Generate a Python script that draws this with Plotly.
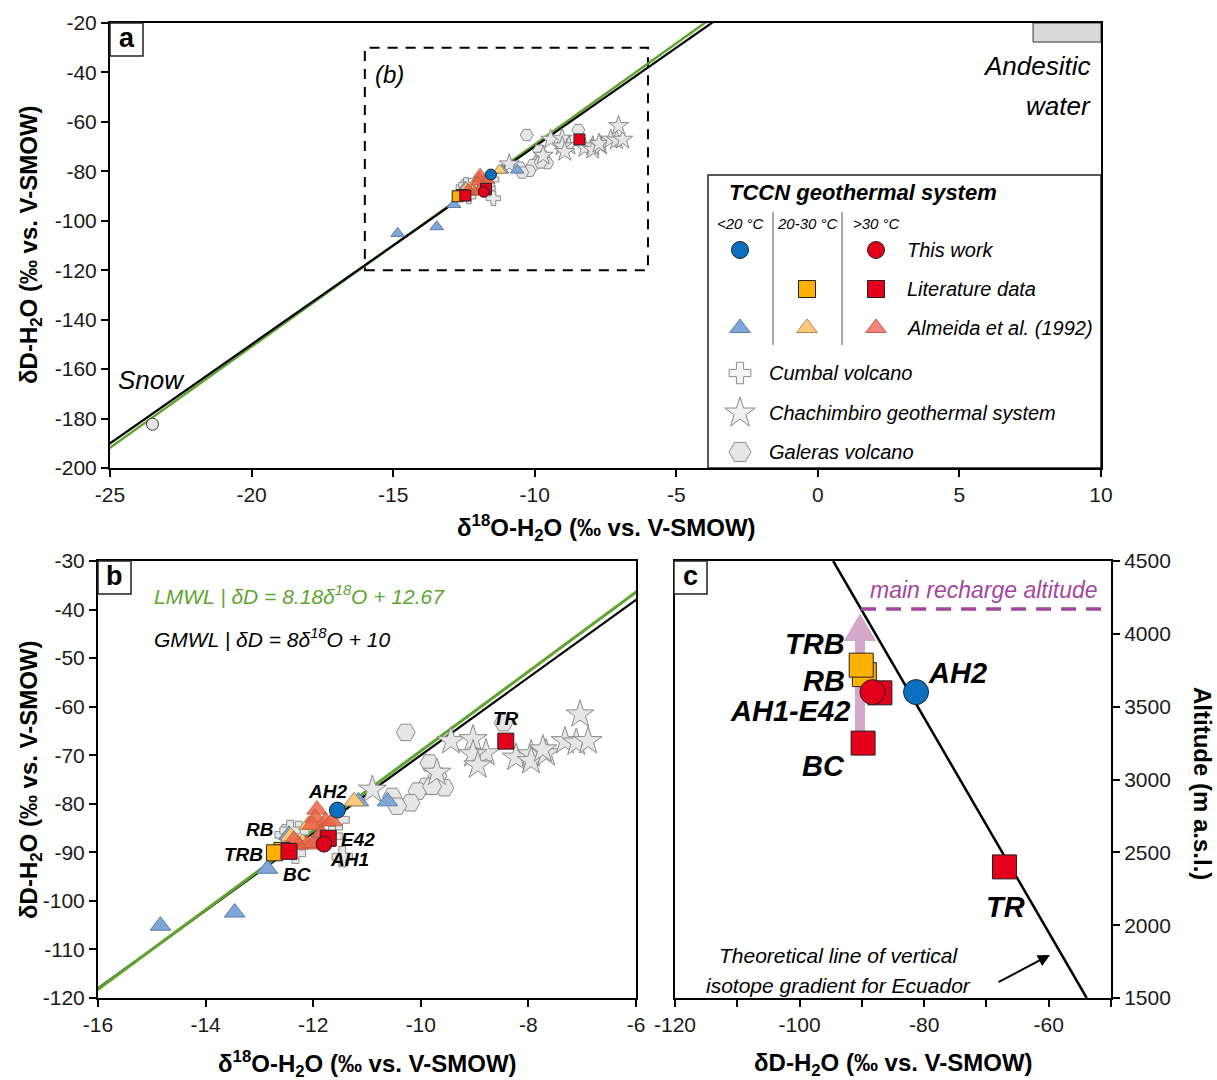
import plotly.graph_objects as go

W, H = 1217, 1080
FONT = "Liberation Sans, Arial, sans-serif"

# ---------------- data (δ18O, δD in ‰ vs V-SMOW; altitude m a.s.l.) ----------------
# TCCN geothermal system - this work
tw_lt20_name = ["AH2"]
tw_lt20_d18O = [-11.55]
tw_lt20_dD = [-81.3]
tw_lt20_alt = [3600]

tw_gt30_name = ["AH1"]
tw_gt30_d18O = [-11.80]
tw_gt30_dD = [-88.3]
tw_gt30_alt = [3600]

# literature data
lit_2030_name = ["RB", "TRB"]
lit_2030_d18O = [-12.58, -12.72]
lit_2030_dD = [-89.6, -90.1]
lit_2030_alt = [3720, 3785]

lit_gt30_name = ["BC", "E42", "TR"]
lit_gt30_d18O = [-12.45, -11.72, -8.42]
lit_gt30_dD = [-89.8, -87.1, -67.1]
lit_gt30_alt = [3250, 3595, 2400]

# Almeida et al. (1992)
alm_lt20_d18O = [-14.84, -13.46, -12.85, -11.16, -10.62, -12.45, -11.90]
alm_lt20_dD = [-105.1, -102.4, -93.4, -79.5, -79.5, -86.4, -87.0]
alm_2030_d18O = [-11.24, -12.08, -12.42, -12.20]
alm_2030_dD = [-79.5, -84.3, -86.7, -88.0]
alm_gt30_d18O = [-11.93, -11.96, -11.77, -11.65, -12.02, -12.27, -12.11, -11.99, -12.36, -11.85]
alm_gt30_dD = [-81.2, -82.9, -83.6, -83.6, -84.3, -88.4, -88.4, -88.1, -87.4, -86.0]

# Cumbal volcano
cum_d18O = [-12.52, -12.27, -11.46, -11.65, -11.52, -12.33, -12.43]
cum_dD = [-86.4, -85.7, -90.9, -86.7, -83.3, -90.2, -85.5]

# Chachimbiro geothermal system
cha_d18O = [-9.44, -9.03, -8.79, -9.03, -8.94, -8.23, -7.95, -7.95, -7.67, -7.73,
            -7.32, -7.11, -6.89, -7.04, -10.90, -9.70]
cha_dD = [-67.1, -66.7, -69.6, -69.8, -72.1, -70.5, -69.8, -71.2, -69.6, -68.8,
          -67.1, -67.4, -67.1, -61.6, -77.1, -73.6]

# Galeras volcano
gal_d18O = [-10.28, -8.46, -9.84, -9.69, -9.90, -9.56, -10.06, -10.19, -9.79, -10.53, -10.44]
gal_dD = [-65.3, -63.3, -71.6, -74.3, -76.4, -76.7, -77.4, -79.8, -76.4, -78.5, -80.5]

# Snow
snow_d18O = [-23.5]
snow_dD = [-182.3]

# meteoric water lines
gmwl_slope, gmwl_int = 8.0, 10.0
lmwl_slope, lmwl_int = 8.18, 12.67
mwl_x = [-26.0, 11.0]

# theoretical vertical isotope gradient for Ecuador (panel c)
grad_dD = [-94.6, -53.9]
grad_alt = [4500, 1500]
recharge_alt = 4170
arrow_dD, arrow_from, arrow_to = -90.3, 3250, 4140

# andesitic water field
and_x = [7.6, 10.0]
and_y = [-27.7, -20.0]

# axis ticks
a_xticks = [-25, -20, -15, -10, -5, 0, 5, 10]
a_yticks = list(range(-200, -19, 20))
b_xticks = [-16, -14, -12, -10, -8, -6]
b_yticks = list(range(-120, -29, 10))
c_xticks = [-120, -100, -80, -60]
c_yticks = [1500, 2000, 2500, 3000, 3500, 4000, 4500]


def lab(vals):
    return [str(v) for v in vals]


# ---------------- colours ----------------
C_BLUE = "#0b6fc0"
C_RED = "#e2001a"
C_ORANGE = "#ffb000"
C_TRI_BLUE = "#7ea6d8"
C_TRI_ORANGE = "#ffca7a"
C_TRI_RED = "#ee6446"
C_TRI_RED_LEG = "#f4847a"
C_GRAY = "#e6e6e6"
C_GRAY_LINE = "#8a8a8a"
C_GREEN = "#5ea52f"
C_PURPLE = "#a2479c"
C_PINK = "#d5a7ca"

# ---------------- layout geometry (pixels) ----------------
A = dict(x0=110, x1=1101, y0=23, y1=468)
B = dict(x0=98, x1=636, y0=561, y1=998)
C = dict(x0=675, x1=1111, y0=561, y1=998)


def X(px):
    return px / W


def Y(py):
    return 1 - py / H


fig = go.Figure()


def pts(x, y, xa, ya, symbol, size, color, lc="#222222", lw=1, opacity=1.0):
    fig.add_trace(go.Scatter(
        x=x, y=y, xaxis=xa, yaxis=ya, mode="markers",
        marker=dict(symbol=symbol, size=size, color=color, opacity=opacity,
                    line=dict(color=lc, width=lw)),
        showlegend=False, hoverinfo="skip"))


def line(x, y, xa, ya, color, width, dash="solid"):
    fig.add_trace(go.Scatter(
        x=x, y=y, xaxis=xa, yaxis=ya, mode="lines",
        line=dict(color=color, width=width, dash=dash),
        showlegend=False, hoverinfo="skip"))


gmwl_y = [gmwl_slope * v + gmwl_int for v in mwl_x]
lmwl_y = [lmwl_slope * v + lmwl_int for v in mwl_x]

# ---- panel a ----
line(mwl_x, lmwl_y, "x", "y", C_GREEN, 2.5)
line(mwl_x, gmwl_y, "x", "y", "black", 2.2)


def draw_iso(xa, ya, s):
    pts(gal_d18O, gal_dD, xa, ya, "hexagon2", s["hex"], C_GRAY, C_GRAY_LINE)
    pts(cha_d18O, cha_dD, xa, ya, "star", s["star"], C_GRAY, C_GRAY_LINE)
    pts(cum_d18O, cum_dD, xa, ya, "cross", s["cross"], C_GRAY, C_GRAY_LINE)
    pts(alm_lt20_d18O, alm_lt20_dD, xa, ya, "triangle-up", s["tri"], C_TRI_BLUE, "#5c7fa8")
    pts(alm_2030_d18O, alm_2030_dD, xa, ya, "triangle-up", s["tri"], C_TRI_ORANGE, "#b08a50")
    pts(alm_gt30_d18O, alm_gt30_dD, xa, ya, "triangle-up", s["tri"], C_TRI_RED, "#b85a40", opacity=0.85)
    pts(lit_2030_d18O, lit_2030_dD, xa, ya, "square", s["sq"], C_ORANGE)
    pts(lit_gt30_d18O, lit_gt30_dD, xa, ya, "square", s["sq"], C_RED)
    pts(tw_lt20_d18O, tw_lt20_dD, xa, ya, "circle", s["circ"], C_BLUE)
    pts(tw_gt30_d18O, tw_gt30_dD, xa, ya, "circle", s["circ"], C_RED)


draw_iso("x", "y", dict(hex=13, star=15, cross=12, tri=12, sq=11, circ=11))
pts(snow_d18O, snow_dD, "x", "y", "circle", 12, C_GRAY, "#333333")

# ---- panel b ----
line(mwl_x, gmwl_y, "x2", "y2", "black", 2.2)
line(mwl_x, lmwl_y, "x2", "y2", C_GREEN, 3)
draw_iso("x2", "y2", dict(hex=19, star=21, cross=17, tri=18, sq=16, circ=16))

# ---- panel c ----
line(grad_dD, grad_alt, "x3", "y3", "black", 2.5)
line([grad_dD[0] + (grad_dD[1] - grad_dD[0]) * (grad_alt[0] - recharge_alt) / (grad_alt[0] - grad_alt[1]), -50],
     [recharge_alt, recharge_alt], "x3", "y3", C_PURPLE, 3.5, "15px,10px")
line([arrow_dD, arrow_dD], [arrow_from, arrow_to - 190], "x3", "y3", C_PINK, 10)
pts(lit_gt30_dD, lit_gt30_alt, "x3", "y3", "square", 24, C_RED)
pts(lit_2030_dD, lit_2030_alt, "x3", "y3", "square", 24, C_ORANGE)
pts(tw_gt30_dD, tw_gt30_alt, "x3", "y3", "circle", 25, C_RED)
pts(tw_lt20_dD, tw_lt20_alt, "x3", "y3", "circle", 25, C_BLUE)

# ---- legend (pixel overlay axes) ----
LEG_COL = [740, 807, 876]
LEG_ROWS = [250, 289, 328, 373, 413, 452]
leg_items = [
    (LEG_COL[0], LEG_ROWS[0], "circle", 17, C_BLUE, "#222222"),
    (LEG_COL[2], LEG_ROWS[0], "circle", 17, C_RED, "#222222"),
    (LEG_COL[1], LEG_ROWS[1], "square", 17, C_ORANGE, "#222222"),
    (LEG_COL[2], LEG_ROWS[1], "square", 17, C_RED, "#222222"),
    (LEG_COL[0], LEG_ROWS[2], "triangle-up", 18, C_TRI_BLUE, "#5c7fa8"),
    (LEG_COL[1], LEG_ROWS[2], "triangle-up", 18, C_TRI_ORANGE, "#b08a50"),
    (LEG_COL[2], LEG_ROWS[2], "triangle-up", 18, C_TRI_RED_LEG, "#c06050"),
    (LEG_COL[0], LEG_ROWS[3], "cross", 18, "#f4f4f4", C_GRAY_LINE),
    (LEG_COL[0], LEG_ROWS[4], "star", 23, "#f0f0f0", C_GRAY_LINE),
    (LEG_COL[0], LEG_ROWS[5], "hexagon2", 22, C_GRAY, C_GRAY_LINE),
]
for lx, ly, sym, sz, col, lc in leg_items:
    pts([lx], [ly], "x4", "y4", sym, sz, col, lc)

# ---------------- axes ----------------
tickfont = dict(family=FONT, size=21, color="#1a1a1a")
common = dict(showline=True, linecolor="black", linewidth=2, mirror=True,
              ticks="outside", ticklen=7, tickwidth=2, tickcolor="black",
              showgrid=False, zeroline=False, tickfont=tickfont, fixedrange=True,
              automargin=False)

fig.update_layout(
    template="none",
    width=W, height=H, margin=dict(l=0, r=0, t=0, b=0, autoexpand=False),
    paper_bgcolor="white", plot_bgcolor="rgba(0,0,0,0)",
    xaxis=dict(domain=[X(A["x0"]), X(A["x1"])], range=[-25, 10], tickvals=a_xticks, ticktext=lab(a_xticks),
               anchor="y", **common),
    yaxis=dict(domain=[Y(A["y1"]), Y(A["y0"])], range=[-200, -20], tickvals=a_yticks, ticktext=lab(a_yticks),
               anchor="x", **common),
    xaxis2=dict(domain=[X(B["x0"]), X(B["x1"])], range=[-16, -6], tickvals=b_xticks, ticktext=lab(b_xticks),
                anchor="y2", **common),
    yaxis2=dict(domain=[Y(B["y1"]), Y(B["y0"])], range=[-120, -30], tickvals=b_yticks, ticktext=lab(b_yticks),
                anchor="x2", **common),
    xaxis3=dict(domain=[X(C["x0"]), X(C["x1"])], range=[-120, -50], tickvals=c_xticks, ticktext=lab(c_xticks),
                minor=dict(dtick=10, tick0=-120, ticks="outside", ticklen=7, tickwidth=2, tickcolor="black",
                           showgrid=False),
                anchor="y3", **common),
    yaxis3=dict(domain=[Y(C["y1"]), Y(C["y0"])], range=[1500, 4500], tickvals=c_yticks, ticktext=lab(c_yticks),
                anchor="x3", side="right", **common),
    xaxis4=dict(domain=[0, 1], range=[0, W], visible=False, anchor="y4", fixedrange=True, automargin=False),
    yaxis4=dict(domain=[0, 1], range=[H, 0], visible=False, anchor="x4", fixedrange=True, automargin=False),
)

shapes = []
annos = []


def text(px, py, s, size, color="black", xanchor="center", yanchor="middle", angle=0):
    annos.append(dict(x=X(px), y=Y(py), xref="paper", yref="paper", text=s, showarrow=False,
                      font=dict(family=FONT, size=size, color=color), xanchor=xanchor,
                      yanchor=yanchor, textangle=angle))


def dtext(x, y, xa, ya, s, size, color="black", xanchor="center"):
    annos.append(dict(x=x, y=y, xref=xa, yref=ya, text=s, showarrow=False,
                      font=dict(family=FONT, size=size, color=color), xanchor=xanchor, yanchor="middle"))


# panel a dashed box showing panel b extent and andesitic water field
shapes.append(dict(type="rect", xref="x", yref="y", x0=-16, x1=-6, y0=-120, y1=-30,
                   line=dict(color="black", width=2, dash="10px,8px"), layer="below"))
shapes.append(dict(type="rect", xref="x", yref="y", x0=and_x[0], x1=and_x[1], y0=and_y[0], y1=and_y[1],
                   line=dict(color="#333333", width=1), fillcolor="#d9d9d9", layer="below"))

# pink arrow head in panel c
hw = 2.6
shapes.append(dict(type="path", xref="x3", yref="y3",
                   path=f"M {arrow_dD - hw} {arrow_to - 190} L {arrow_dD + hw} {arrow_to - 190} L {arrow_dD} {arrow_to} Z",
                   fillcolor=C_PINK, line=dict(width=0), layer="below"))

# legend box
shapes.append(dict(type="rect", xref="paper", yref="paper", x0=X(708), x1=X(1101), y0=Y(468), y1=Y(175),
                   line=dict(color="#222222", width=1.5), fillcolor="white", layer="below"))
for sx in (773, 842):
    shapes.append(dict(type="line", xref="paper", yref="paper", x0=X(sx), x1=X(sx), y0=Y(212), y1=Y(345),
                       line=dict(color="#555555", width=1)))

# panel letter boxes
for (bx0, by0, letter) in [(A["x0"], A["y0"], "a"), (B["x0"], B["y0"], "b"), (C["x0"] - 1, C["y0"], "c")]:
    shapes.append(dict(type="rect", xref="paper", yref="paper", x0=X(bx0), x1=X(bx0 + 33),
                       y0=Y(by0 + 33), y1=Y(by0), line=dict(color="#222222", width=1.5), fillcolor="white"))
    text(bx0 + 16.5, by0 + 15, f"<b>{letter}</b>", 27)

# legend texts
text(727, 192, "<b><i>TCCN geothermal system</i></b>", 22, xanchor="left")
text(LEG_COL[0], 223, "<i>&lt;20 °C</i>", 15)
text(LEG_COL[1], 223, "<i>20-30 °C</i>", 15)
text(LEG_COL[2], 223, "<i>&gt;30 °C</i>", 15)
text(905, LEG_ROWS[0], "<i>This work</i>", 20, xanchor="left")
text(905, LEG_ROWS[1], "<i>Literature data</i>", 20, xanchor="left")
text(905, LEG_ROWS[2], "<i>Almeida et al. (1992)</i>", 20, xanchor="left")
text(767, LEG_ROWS[3], "<i>Cumbal volcano</i>", 20, xanchor="left")
text(767, LEG_ROWS[4], "<i>Chachimbiro geothermal system</i>", 20, xanchor="left")
text(767, LEG_ROWS[5], "<i>Galeras volcano</i>", 20, xanchor="left")

# panel a texts
text(1093, 66, "<i>Andesitic</i>", 26, xanchor="right")
text(1093, 106, "<i>water</i>", 26, xanchor="right")
text(116, 380, "<i>Snow</i>", 26, xanchor="left")
text(373, 74, "<i>(b)</i>", 24, xanchor="left")

# panel b texts
text(152, 595, "<i>LMWL | δD = 8.18δ<sup>18</sup>O + 12.67</i>", 21, color=C_GREEN, xanchor="left")
text(152, 638, "<i>GMWL | δD = 8δ<sup>18</sup>O + 10</i>", 21, xanchor="left")
b_labels = [(-11.74, -77.5, "AH2"), (-12.99, -85.3, "RB"), (-13.30, -90.5, "TRB"), (-11.17, -87.4, "E42"),
            (-11.33, -91.5, "AH1"), (-12.30, -94.6, "BC"), (-8.42, -62.4, "TR")]
for lx, ly, s in b_labels:
    dtext(lx, ly, "x2", "y2", f"<b><i>{s}</i></b>", 19)

# panel c texts
c_labels = [(-97.5, 3932, "TRB"), (-96.1, 3678, "RB"), (-101.5, 3473, "AH1-E42"), (-96.1, 3096, "BC"),
            (-74.6, 3733, "AH2"), (-66.9, 2123, "TR")]
for lx, ly, s in c_labels:
    dtext(lx, ly, "x3", "y3", f"<b><i>{s}</i></b>", 29)
text(984, 590, "<i>main recharge altitude</i>", 23, color=C_PURPLE)
text(838, 955, "<i>Theoretical line of vertical</i>", 21)
text(838, 985, "<i>isotope gradient for Ecuador</i>", 21)
annos.append(dict(x=-59.8, y=1795, xref="x3", yref="y3", ax=-53, ay=28, axref="pixel", ayref="pixel",
                  text="", showarrow=True, arrowhead=2, arrowsize=1.2, arrowwidth=2, arrowcolor="black"))

# axis titles
t_dO = "<b>δ<sup>18</sup>O-H<sub>2</sub>O (‰ vs. V-SMOW)</b>"
t_dD = "<b>δD-H<sub>2</sub>O (‰ vs. V-SMOW)</b>"
text(606, 528, t_dO, 24)
text(30, 245, t_dD, 24, angle=-90)
text(367, 1064, t_dO, 24)
text(30, 780, t_dD, 24, angle=-90)
text(893, 1064, t_dD, 24)
text(1203, 783, "<b>Altitude (m a.s.l.)</b>", 24, angle=90)

fig.update_layout(shapes=shapes, annotations=annos)
fig.write_html("out.html")
